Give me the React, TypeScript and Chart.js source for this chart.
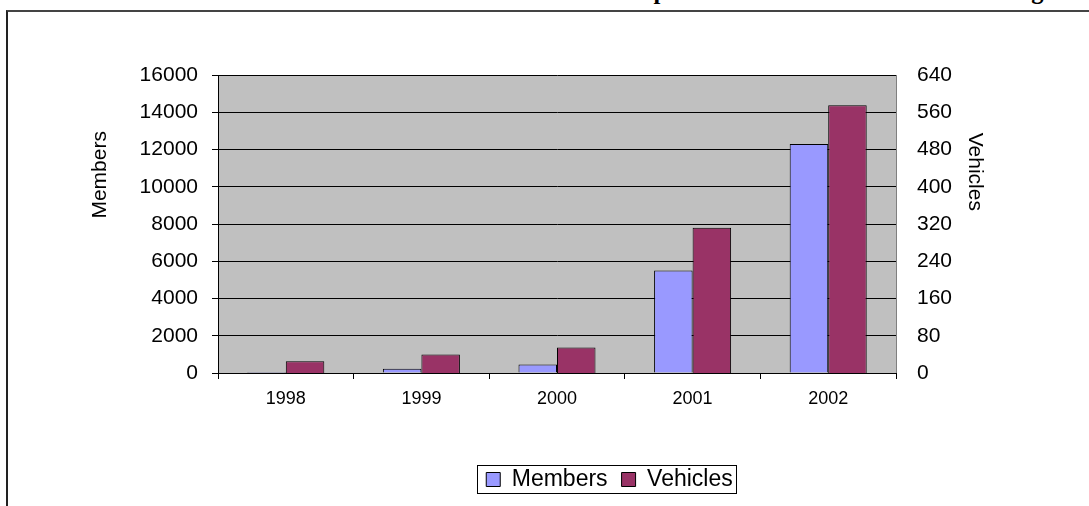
import React, { useEffect, useRef } from "react";
import { Chart, registerables } from "chart.js";

Chart.register(...registerables);

const years = ["1998", "1999", "2000", "2001", "2002"];
const members = [60, 230, 450, 5500, 12300];
const vehicles = [25, 40, 55, 312, 575];
const membersMax = 16000;
const membersStep = 2000;
const vehiclesMax = 640;
const vehiclesStep = 80;
const titleText = "Annual Membership and Vehicle Totals Since Launching";

const SANS = "'Liberation Sans', Arial, sans-serif";

const plotBackground = {
  id: "plotBackground",
  beforeDraw(chart: any) {
    const { ctx, chartArea } = chart;
    ctx.save();
    ctx.fillStyle = "#C0C0C0";
    ctx.fillRect(chartArea.left, chartArea.top, chartArea.width, chartArea.height);
    ctx.strokeStyle = "#808080";
    ctx.lineWidth = 1;
    ctx.beginPath();
    ctx.moveTo(Math.round(chartArea.right) + 0.5, chartArea.top);
    ctx.lineTo(Math.round(chartArea.right) + 0.5, chartArea.bottom);
    ctx.stroke();
    ctx.restore();
  },
};

const extras = {
  id: "extras",
  afterDraw(chart: any) {
    const { ctx, chartArea } = chart;
    ctx.save();
    ctx.fillStyle = "#000";
    ctx.font = `21px ${SANS}`;
    ctx.textAlign = "center";
    ctx.textBaseline = "middle";
    const yMid = chartArea.top + chartArea.height * 0.335;
    ctx.save();
    ctx.translate(chartArea.left - 118, yMid);
    ctx.rotate(-Math.PI / 2);
    ctx.fillText("Members", 0, 0);
    ctx.restore();
    ctx.save();
    ctx.translate(chartArea.right + 79, yMid - 3);
    ctx.rotate(Math.PI / 2);
    ctx.fillText("Vehicles", 0, 0);
    ctx.restore();

    const legend = chart.legend;
    if (legend && legend.legendHitBoxes && legend.legendHitBoxes.length) {
      const hb = legend.legendHitBoxes;
      const first = hb[0];
      const last = hb[hb.length - 1];
      const left = Math.round(first.left - 9) + 0.5;
      const right = Math.round(last.left + last.width + 3) + 0.5;
      const top = Math.round(first.top - 3) + 0.5;
      const bottom = top + 28;
      ctx.strokeStyle = "#000";
      ctx.lineWidth = 1;
      ctx.strokeRect(left, top, right - left, bottom - top);
    }
    ctx.restore();
  },
};

export default function App() {
  const ref = useRef<HTMLCanvasElement | null>(null);

  useEffect(() => {
    if (!ref.current) return;
    const chart = new Chart(ref.current, {
      type: "bar",
      data: {
        labels: years,
        datasets: [
          {
            label: "Members",
            data: members,
            backgroundColor: "#9999FF",
            borderColor: "#000000",
            borderWidth: 1,
            yAxisID: "y",
            categoryPercentage: 0.568,
            barPercentage: 1,
          },
          {
            label: "Vehicles",
            data: vehicles,
            backgroundColor: "#993366",
            borderColor: "#000000",
            borderWidth: 1,
            yAxisID: "y1",
            categoryPercentage: 0.568,
            barPercentage: 1,
          },
        ],
      },
      options: {
        animation: false,
        responsive: false,
        maintainAspectRatio: false,
        devicePixelRatio: 1,
        layout: { padding: { top: 75, left: 130, right: 0, bottom: 5 } },
        plugins: {
          title: { display: false },
          tooltip: { enabled: false },
          legend: {
            display: true,
            position: "bottom",
            labels: {
              boxWidth: 14,
              boxHeight: 14,
              padding: 14,
              color: "#000",
              font: { family: SANS, size: 23 },
            },
          },
        },
        scales: {
          x: {
            offset: true,
            grid: {
              display: true,
              offset: true,
              drawOnChartArea: false,
              color: "#000",
              tickLength: 6,
            },
            border: { display: true, color: "#000", width: 1 },
            ticks: {
              color: "#000",
              font: { family: SANS, size: 18 },
              padding: 9,
              maxRotation: 0,
            },
            afterFit: (scale: any) => {
              scale.height = 81;
            },
          },
          y: {
            position: "left",
            min: 0,
            max: membersMax,
            ticks: {
              stepSize: membersStep,
              color: "#000",
              font: { family: SANS, size: 21 },
              padding: 14,
              callback: (v: any) => String(v),
            },
            grid: { color: "#000", lineWidth: 1, tickLength: 6, drawTicks: true },
            border: { display: true, color: "#000", width: 1 },
            afterFit: (scale: any) => {
              scale.width = 88;
            },
          },
          y1: {
            position: "right",
            min: 0,
            max: vehiclesMax,
            ticks: {
              stepSize: vehiclesStep,
              color: "#000",
              font: { family: SANS, size: 21 },
              padding: 21,
              callback: (v: any) => String(v),
            },
            grid: { display: false, drawTicks: false },
            border: { display: false },
            afterFit: (scale: any) => {
              scale.width = 193;
            },
          },
        },
      },
      plugins: [plotBackground, extras],
    });
    return () => chart.destroy();
  }, []);

  return (
    <div
      style={{
        position: "fixed",
        left: 0,
        top: 0,
        width: 1089,
        height: 506,
        overflow: "hidden",
        background: "#fff",
      }}
    >
      <div
        style={{
          position: "absolute",
          left: 6,
          top: 10,
          width: 2000,
          height: 2000,
          borderLeft: "2px solid #222",
          borderTop: "2px solid #444",
        }}
      />
      <div
        style={{
          position: "absolute",
          left: 450,
          top: -23,
          whiteSpace: "nowrap",
          fontFamily: "'Liberation Serif', 'Times New Roman', serif",
          fontWeight: "bold",
          fontSize: 24.5,
          lineHeight: "27px",
          color: "#000",
        }}
      >
        {titleText}
      </div>
      <canvas
        ref={ref}
        width={1089}
        height={506}
        style={{ position: "absolute", left: 0, top: 0, width: 1089, height: 506 }}
      />
    </div>
  );
}
